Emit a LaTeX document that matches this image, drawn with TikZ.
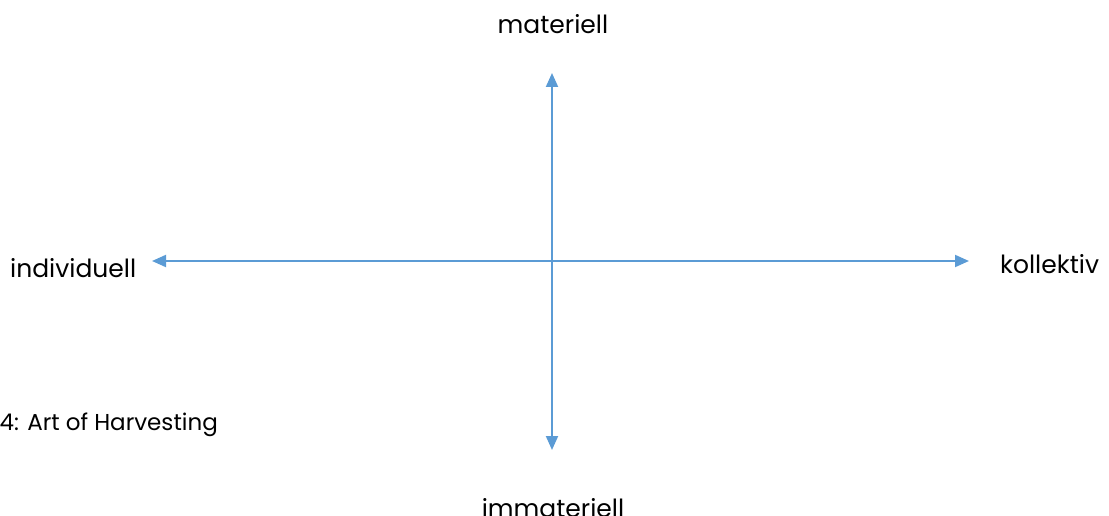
\documentclass[tikz,border=0pt]{standalone}
\usepackage{fontspec}
\setmainfont{Poppins}
\usetikzlibrary{arrows.meta}
\definecolor{axisblue}{RGB}{91,155,213}
\begin{document}
\begin{tikzpicture}[x=1pt,y=1pt,
  axis/.style={draw=axisblue,line width=2pt,{Triangle[length=14pt,width=12pt]}-{Triangle[length=14pt,width=12pt]}},
  lbl/.style={inner sep=0pt,font=\fontsize{25}{30}\selectfont,text=black},
  srclbl/.style={inner sep=0pt,font=\fontsize{23}{28}\selectfont,text=black}]
\useasboundingbox (0,0) rectangle (1109,515);
\clip (0,0) rectangle (1109,515);
\coordinate (top) at (552,442);
\coordinate (bot) at (552,65);
\coordinate (lft) at (152,254);
\coordinate (rgt) at (969,254);
\draw[axis] (bot) -- (top);
\draw[axis] (lft) -- (rgt);
\node[lbl,anchor=base] (mat) at (553,481) {materiell};
\node[lbl,anchor=base] (imm) at (553,-2) {immateriell};
\node[lbl,anchor=base west] (ind) at (10,238) {individuell};
\node[lbl,anchor=base west] (kol) at (1000,242) {kollektiv};
\node[srclbl,anchor=base east] (src) at (218,85) {4: Art of Harvesting};
\end{tikzpicture}
\end{document}
